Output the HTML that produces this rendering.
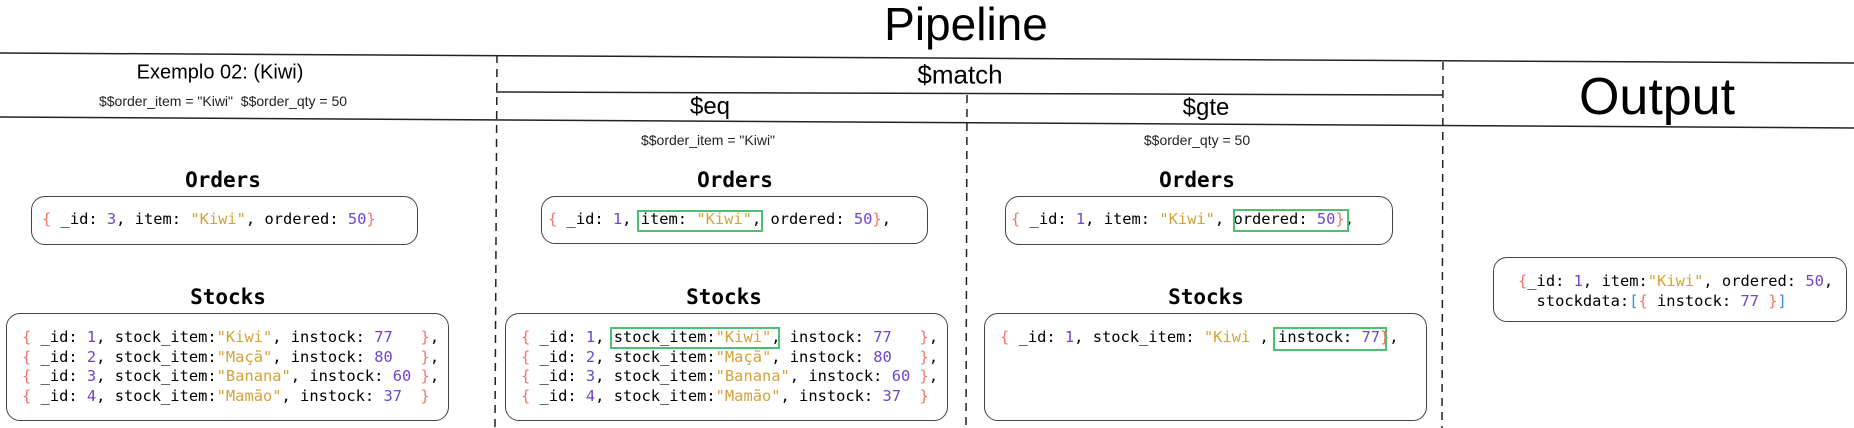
<!DOCTYPE html>
<html><head><meta charset="utf-8">
<style>
body{margin:0;width:1854px;height:428px;background:#fff;position:relative;overflow:hidden;font-family:"Liberation Sans",sans-serif;color:#000}
.a{position:absolute;white-space:pre}
.c{transform:translate(-50%,-50%)}
.m{font-family:"DejaVu Sans Mono","Liberation Mono",monospace;font-size:15.4px;color:#000;line-height:19.5px}
.t{font-family:"DejaVu Sans Mono","Liberation Mono",monospace;font-size:21px;color:#000;font-weight:bold}
.r{color:#f2776b}.n{color:#6e45d0}.s{color:#d3a23a}.b{color:#3a8fd6}
.box{position:absolute;border:1.5px solid #444;border-radius:14px;box-sizing:border-box}
.g{position:absolute;border:2px solid #4cc070;box-sizing:border-box}
</style></head><body>
<svg class="a" style="left:0;top:0" width="1854" height="428">
<g stroke="#222" stroke-width="1.5">
<line x1="0" y1="53" x2="1854" y2="63"/>
<line x1="0" y1="117" x2="1854" y2="128"/>
<line x1="496" y1="92" x2="1443" y2="95"/>
</g>
<g stroke="#222" stroke-width="1.5" stroke-dasharray="8,6">
<line x1="497" y1="55" x2="495" y2="428"/>
<line x1="1443" y1="62" x2="1442" y2="428"/>
<line x1="967" y1="95" x2="966" y2="428"/>
</g>
</svg>
<div class="a c" style="left:966px;top:24px;font-size:46px">Pipeline</div>
<div class="a c" style="left:960px;top:75px;font-size:26px">$match</div>
<div class="a c" style="left:710px;top:107px;font-size:24px">$eq</div>
<div class="a c" style="left:1206px;top:108px;font-size:24px">$gte</div>
<div class="a c" style="left:1657px;top:97px;font-size:52px">Output</div>
<div class="a c" style="left:220px;top:73px;font-size:20px">Exemplo 02: (Kiwi)</div>
<div class="a c" style="left:223px;top:101px;font-size:14px;color:#222">$$order_item = "Kiwi"  $$order_qty = 50</div>
<div class="a c" style="left:708px;top:140px;font-size:14px;color:#222">$$order_item = "Kiwi"</div>
<div class="a c" style="left:1197px;top:140px;font-size:14px;color:#222">$$order_qty = 50</div>

<div class="a c t" style="left:223px;top:180px">Orders</div>
<div class="a c t" style="left:735px;top:180px">Orders</div>
<div class="a c t" style="left:1197px;top:180px">Orders</div>
<div class="a c t" style="left:228px;top:297px">Stocks</div>
<div class="a c t" style="left:724px;top:297px">Stocks</div>
<div class="a c t" style="left:1206px;top:297px">Stocks</div>

<div class="box" style="left:31px;top:196px;width:387px;height:49px"></div>
<div class="a m" style="left:42px;top:210px"><span class="r">{</span> _id: <span class="n">3</span>, item: <span class="s">"Kiwi"</span>, ordered: <span class="n">50</span><span class="r">}</span></div>
<div class="box" style="left:6px;top:313px;width:443px;height:108px"></div>
<div class="a m" style="left:22px;top:328px"><span class="r">{</span> _id: <span class="n">1</span>, stock_item:<span class="s">"Kiwi"</span>, instock: <span class="n">77</span>   <span class="r">}</span>,
<span class="r">{</span> _id: <span class="n">2</span>, stock_item:<span class="s">"Maçã"</span>, instock: <span class="n">80</span>   <span class="r">}</span>,
<span class="r">{</span> _id: <span class="n">3</span>, stock_item:<span class="s">"Banana"</span>, instock: <span class="n">60</span> <span class="r">}</span>,
<span class="r">{</span> _id: <span class="n">4</span>, stock_item:<span class="s">"Mamão"</span>, instock: <span class="n">37</span>  <span class="r">}</span></div>

<div class="box" style="left:541px;top:196px;width:387px;height:48px"></div>
<div class="a m" style="left:548px;top:210px"><span class="r">{</span> _id: <span class="n">1</span>, item: <span class="s">"Kiwi"</span>, ordered: <span class="n">50</span><span class="r">}</span>,</div>
<div class="g" style="left:637px;top:210px;width:126px;height:22px"></div>
<div class="box" style="left:505px;top:313px;width:443px;height:108px"></div>
<div class="a m" style="left:521px;top:328px"><span class="r">{</span> _id: <span class="n">1</span>, stock_item:<span class="s">"Kiwi"</span>, instock: <span class="n">77</span>   <span class="r">}</span>,
<span class="r">{</span> _id: <span class="n">2</span>, stock_item:<span class="s">"Maçã"</span>, instock: <span class="n">80</span>   <span class="r">}</span>,
<span class="r">{</span> _id: <span class="n">3</span>, stock_item:<span class="s">"Banana"</span>, instock: <span class="n">60</span> <span class="r">}</span>,
<span class="r">{</span> _id: <span class="n">4</span>, stock_item:<span class="s">"Mamão"</span>, instock: <span class="n">37</span>  <span class="r">}</span></div>
<div class="g" style="left:610px;top:327px;width:170px;height:22px"></div>

<div class="box" style="left:1005px;top:196px;width:388px;height:49px"></div>
<div class="a m" style="left:1011px;top:210px"><span class="r">{</span> _id: <span class="n">1</span>, item: <span class="s">"Kiwi"</span>, ordered: <span class="n">50</span><span class="r">}</span>,</div>
<div class="g" style="left:1233px;top:209px;width:116px;height:23px"></div>
<div class="box" style="left:984px;top:313px;width:443px;height:108px"></div>
<div class="a m" style="left:1000px;top:328px"><span class="r">{</span> _id: <span class="n">1</span>, stock_item: <span class="s">"Kiwi</span> , instock: <span class="n">77</span><span class="r">}</span>,</div>
<div class="g" style="left:1273px;top:327px;width:114px;height:24px"></div>

<div class="box" style="left:1493px;top:257px;width:354px;height:65px"></div>
<div class="a m" style="left:1518px;top:272px"><span class="r">{</span>_id: <span class="n">1</span>, item:<span class="s">"Kiwi"</span>, ordered: <span class="n">50</span>,
  stockdata:<span class="b">[</span><span class="r">{</span> instock: <span class="n">77</span> <span class="r">}</span><span class="b">]</span></div>
</body></html>
